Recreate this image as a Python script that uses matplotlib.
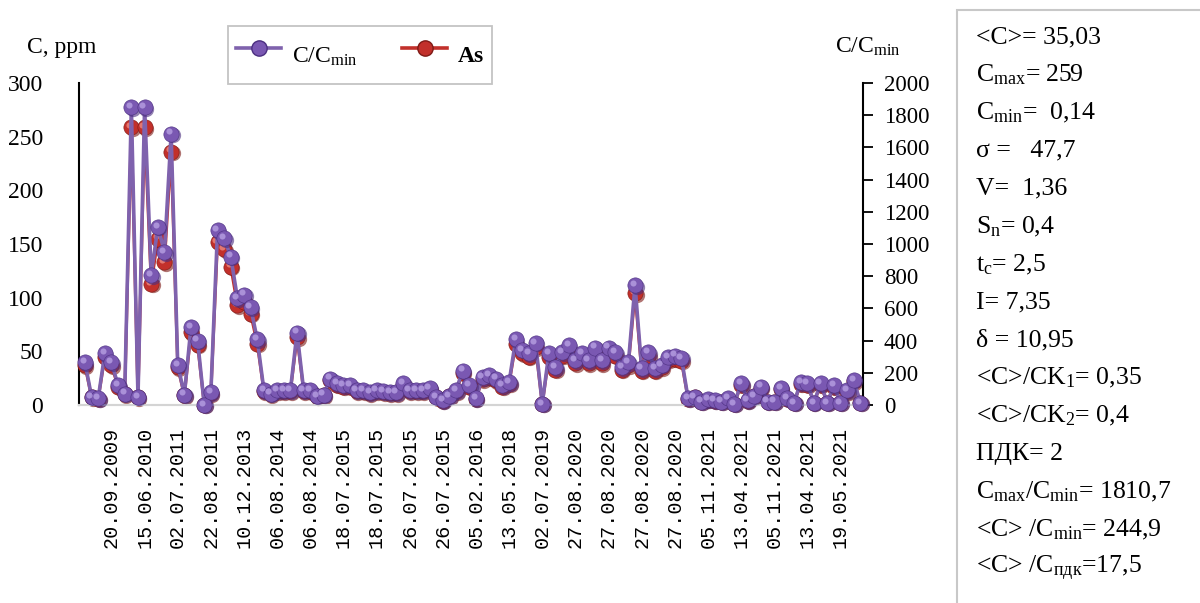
#plot of As concentration (ppm) and C/Cmin ratio over sampling dates, with a stats box on the right

#imports
import numpy as np
import matplotlib.pyplot as plt
from matplotlib.lines import Line2D
from matplotlib.patches import Rectangle
from matplotlib.transforms import offset_copy

plt.rcParams['font.family'] = ['Liberation Serif', 'DejaVu Serif']
plt.rcParams['mathtext.fontset'] = 'custom'
plt.rcParams['mathtext.rm'] = 'Liberation Serif'
plt.rcParams['mathtext.it'] = 'Liberation Serif:italic'
plt.rcParams['mathtext.bf'] = 'Liberation Serif:bold'

# As concentration per sample, ppm
as_ppm = [37, 7, 6, 45, 37, 17, 10, 259, 7, 259,
          113, 155, 133, 236, 35, 9, 68, 56, 0.14, 11,
          152, 145, 129, 93, 96, 85, 57, 13, 10, 13,
          13, 13, 63, 13, 13, 8, 9, 23, 19, 17,
          17, 13, 13, 11, 13, 12, 11, 11, 19, 13,
          13, 13, 15, 7, 4, 8, 13, 30, 17, 6,
          24, 26, 23, 17, 20, 57, 48, 45, 54, 1,
          45, 33, 46, 52, 39, 45, 39, 50, 39, 50,
          46, 33, 37, 104, 32, 46, 32, 35, 42, 43,
          41, 6, 7, 3, 5, 4, 3, 6, 1, 19,
          4, 8, 16, 3, 3, 15, 6, 2, 20, 19,
          2, 19, 2, 17, 2, 13, 22, 2]
c_min = 0.14
c_ratio = [v / c_min for v in as_ppm]  # C/Cmin is just As divided by the minimum

# every 5th sample gets a date label, starting from the 5th one
tick_idx = list(range(4, len(as_ppm), 5))
tick_labels = ["20.09.2009", "15.06.2010", "02.07.2011", "22.08.2011", "10.12.2013",
               "06.08.2014", "06.08.2014", "18.07.2015", "18.07.2015", "26.07.2015",
               "26.07.2015", "05.02.2016", "13.05.2018", "02.07.2019", "27.08.2020",
               "27.08.2020", "27.08.2020", "27.08.2020", "05.11.2021", "13.04.2021",
               "05.11.2021", "13.04.2021", "19.05.2021"]

left_ticks = [0, 50, 100, 150, 200, 250, 300]
right_ticks = list(range(0, 2001, 200))

stats_lines = ["<C>= 35,03",
               "C$_\\mathrm{max}$= 259",
               "C$_\\mathrm{min}$=  0,14",
               "σ =   47,7",
               "V=  1,36",
               "S$_\\mathrm{n}$= 0,4",
               "t$_\\mathrm{c}$= 2,5",
               "I= 7,35",
               "δ = 10,95",
               "<C>/CK$_\\mathrm{1}$= 0,35",
               "<C>/CK$_\\mathrm{2}$= 0,4",
               "ПДК= 2",
               "C$_\\mathrm{max}$/C$_\\mathrm{min}$= 1810,7",
               "<C> /C$_\\mathrm{min}$= 244,9",
               "<C> /C$_\\mathrm{пдк}$=17,5"]

PURPLE = "#7a58b2"
PURPLE_LINE = "#7f62ad"
PURPLE_DARK = "#4b2f80"
PURPLE_HI = "#b7a0e2"
RED = "#c2302b"
RED_DARK = "#7e1a16"
RED_HI = "#ec8a82"


def sphere_markers(ax, fig, x, y, face, dark, hi, ms=11):
    """fake 3d balls: shadow, body, small highlight"""
    shadow = offset_copy(ax.transData, fig=fig, x=1.5, y=-1.5, units='dots')
    light = offset_copy(ax.transData, fig=fig, x=-2.2, y=2.2, units='dots')
    ax.plot(x, y, ls='none', marker='o', ms=ms, mfc=dark, mec='none', alpha=0.6,
            transform=shadow, clip_on=False, zorder=3)
    ax.plot(x, y, ls='none', marker='o', ms=ms, mfc=face, mec=dark, mew=0.4,
            clip_on=False, zorder=4)
    ax.plot(x, y, ls='none', marker='o', ms=ms * 0.4, mfc=hi, mec='none', alpha=0.8,
            transform=light, clip_on=False, zorder=5)


fig = plt.figure(figsize=(12, 6.03), dpi=100)
ax = fig.add_axes([79 / 1200, 1 - 405 / 603, (863 - 79) / 1200, (405 - 83) / 603])
ax2 = ax.twinx()

x = np.arange(len(as_ppm))

# As on the left axis (drawn first, so it sits under the purple series)
ax.plot(x, as_ppm, color=RED, lw=2.2, zorder=2, clip_on=False)
sphere_markers(ax, fig, x, as_ppm, RED, RED_DARK, RED_HI)

# C/Cmin on the right axis
ax2.plot(x, c_ratio, color=PURPLE_LINE, lw=2.6, zorder=2, clip_on=False)
sphere_markers(ax2, fig, x, c_ratio, PURPLE, PURPLE_DARK, PURPLE_HI)

ax.set_xlim(-0.9, len(as_ppm) - 0.6)
ax.set_ylim(0, 300)
ax2.set_ylim(0, 2000)

ax.set_yticks(left_ticks)
ax.tick_params(axis='y', length=0, pad=26, labelsize=17)
ax2.set_yticks(right_ticks)
ax2.tick_params(axis='y', length=7, width=1.3, pad=8, labelsize=16.5, direction='out')

ax.set_xticks(tick_idx)
ax.set_xticklabels(tick_labels, rotation=90, family='Liberation Mono', fontsize=14.5)
ax.tick_params(axis='x', length=0, pad=16)

for a in (ax, ax2):
    a.spines['top'].set_visible(False)
    a.spines['bottom'].set_color('#d4d4d4')
    a.spines['bottom'].set_linewidth(1.5)
    a.patch.set_visible(False)
ax.spines['right'].set_visible(False)
ax.spines['left'].set_linewidth(1.5)
ax2.spines['left'].set_visible(False)
ax2.spines['right'].set_linewidth(1.5)

# axis titles sit above the axes
fig.text(27 / 1200, 1 - 47 / 603, "C, ppm", fontsize=17, va='center')
fig.text(835 / 1200, 1 - 47 / 603, "C/C$_\\mathrm{min}$", fontsize=17, va='center')

# legend
handles = [Line2D([], [], color=PURPLE_LINE, lw=2.6, marker='o', ms=11, mfc=PURPLE, mec=PURPLE_DARK),
           Line2D([], [], color=RED, lw=2.6, marker='o', ms=11, mfc=RED, mec=RED_DARK)]
leg = fig.legend(handles, ["C/C$_\\mathrm{min}$", "As"], loc='center',
                 bbox_to_anchor=(360 / 1200, 1 - 55 / 603), ncol=2, fancybox=False,
                 edgecolor='#c4c4c4', fontsize=17, handlelength=1.9, handleheight=2.3,
                 handletextpad=0.45, columnspacing=1.9, borderpad=0.35, framealpha=1)
leg.get_frame().set_linewidth(1.3)
leg.get_texts()[1].set_fontweight('bold')

# stats box on the right
fig.patches.append(Rectangle((957 / 1200, -0.05), 0.3, 1 - 10 / 603 + 0.05,
                             transform=fig.transFigure, fill=False,
                             edgecolor='#c8c8c8', lw=1.5))
line_y = np.linspace(37, 568, len(stats_lines))
for txt, yy in zip(stats_lines, line_y):
    fig.text(976 / 1200, 1 - yy / 603, txt, fontsize=18.5, va='center')

fig.savefig("out.png", dpi=100)
